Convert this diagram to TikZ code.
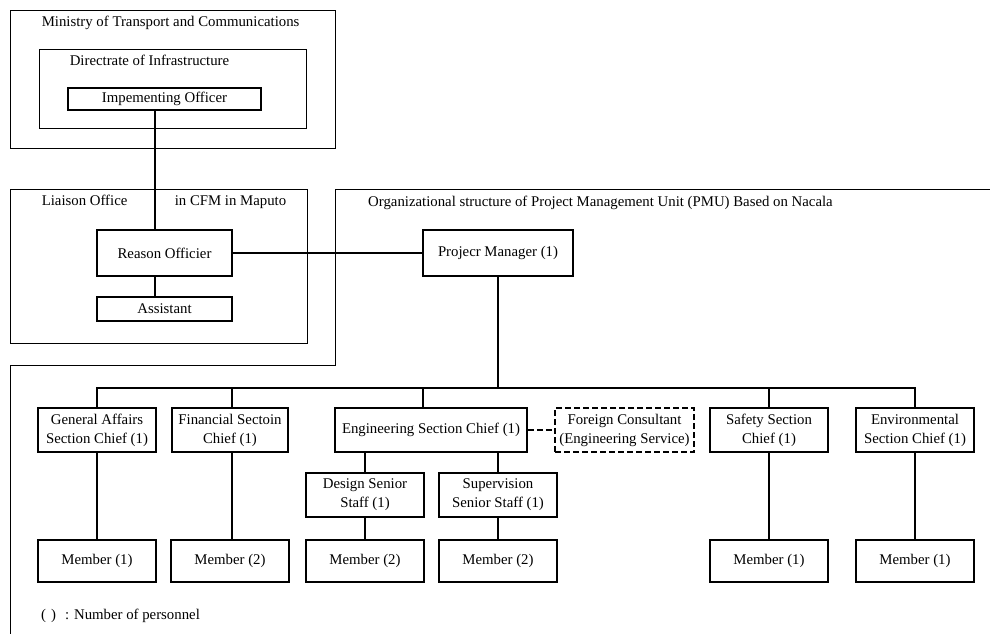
\documentclass[tikz,border=0pt]{standalone}
\usepackage{fontspec}
\setmainfont{Liberation Serif}
\usetikzlibrary{positioning}
\begin{document}
\begin{tikzpicture}[
    x=1pt, y=-1pt,
    font=\fontsize{14.8}{19}\selectfont,
    frame/.style={draw, line width=0.8pt},
    title/.style={anchor=base west, inner sep=0pt},
    post/.style={draw, line width=1.7pt, align=center, inner sep=1pt,
        minimum width=118, minimum height=44},
    link/.style={line width=1.7pt},
]
\useasboundingbox (0,0) rectangle (990,634);

% ministry side
\node[frame, minimum width=325, minimum height=138] (ministry) at (172.5,79) {};
\node[title] at ([xshift=32pt,yshift=-17pt]ministry.north west)
{Ministry of Transport and Communications};

\node[frame, minimum width=267, minimum height=79] (directorate) at (172.5,88.5) {};
\node[title] at ([xshift=31pt,yshift=-17pt]directorate.north west)
{Directrate of Infrastructure};

\node[post, minimum width=193, minimum height=22] (impl) at (164.5,99) {Impementing Officer};

% liaison office
\node[frame, minimum width=297, minimum height=154] (liaison) at (158.5,266) {};
\node[title] at ([xshift=32pt,yshift=-17pt]liaison.north west)
{Liaison Office};
\node[title] at ([xshift=165pt,yshift=-17pt]liaison.north west)
{in CFM in Maputo};

\node[post, minimum width=135, minimum height=46] (reason) at (164.5,253) {Reason Officier};
\node[post, minimum width=135, minimum height=24] (assistant) at (164.5,309) {Assistant};

% PMU frame
\draw[frame] (990,189) -| (335,365) -| (10,634);
\node[title] (pmutitle) at (368,206)
{Organizational structure of Project Management Unit (PMU) Based on Nacala};

\node[post, minimum width=150, minimum height=46] (pm) at (498,253) {Projecr Manager (1)};

% sections
\node[post] (ga) at (97,430) {General Affairs\\Section Chief (1)};
\node[post, minimum width=116] (fin) at (230,430) {Financial Sectoin\\Chief (1)};
\node[post, minimum width=192] (eng) at (431,430) {Engineering Section Chief (1)};
\node[post, minimum width=139, dash pattern=on 6pt off 3pt] (fc) at (624.5,430)
{Foreign Consultant\\(Engineering Service)};
\node[post] (safety) at (769,430) {Safety Section\\Chief (1)};
\node[post] (env) at (915,430) {Environmental\\Section Chief (1)};

\node[post] (design) at (365,495) {Design Senior\\Staff (1)};
\node[post] (sup) at (498,495) {Supervision\\Senior Staff (1)};

% members
\foreach \name/\x/\n in {mga/97/1, mfin/230/2, mdesign/365/2, msup/498/2, msafety/769/1, menv/915/1}
    \node[post, minimum height=42] (\name) at (\x,561) {Member (\n)};

\node[title] (legend) at (41,619) {(\hspace{5pt})\hspace{9pt}: Number of personnel};

% connectors
\coordinate (bus) at (498,388);
\draw[link] ([xshift=-9.5pt]impl.south) -- ([xshift=-9.5pt]reason.north);
\draw[link] ([xshift=-9.5pt]reason.south) -- ([xshift=-9.5pt]assistant.north);
\draw[link] (reason.east) -- (pm.west);
\draw[link] (pm.south) -- (bus);
\draw[link] (ga.north) |- (bus) -| (env.north);
\draw[link] ([xshift=2pt]fin.north) -- ([xshift=2pt]fin.north |- bus);
\draw[link] ([xshift=-8pt]eng.north) -- ([xshift=-8pt]eng.north |- bus);
\draw[link] (safety.north) -- (safety.north |- bus);
\draw[link, dash pattern=on 6pt off 3pt] (eng.east) -- (fc.west);
\draw[link] (design.north) -- (design.north |- eng.south);
\draw[link] (sup.north) -- (sup.north |- eng.south);
\draw[link] (ga) -- (mga);
\draw[link] ([xshift=2pt]fin.south) -- ([xshift=2pt]mfin.north);
\draw[link] (design) -- (mdesign);
\draw[link] (sup) -- (msup);
\draw[link] (safety) -- (msafety);
\draw[link] (env) -- (menv);
\end{tikzpicture}
\end{document}
